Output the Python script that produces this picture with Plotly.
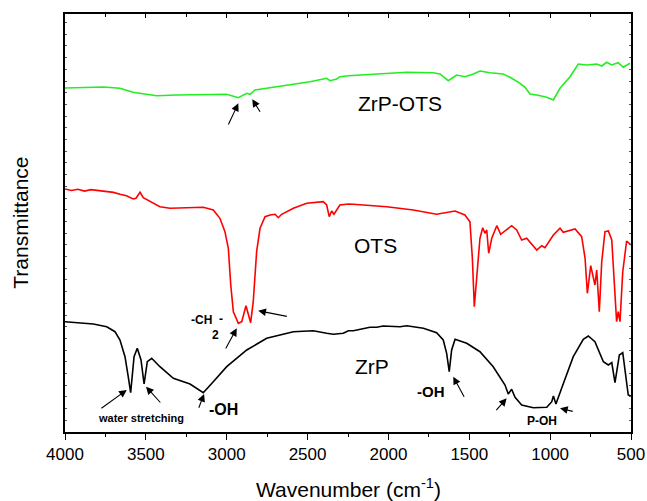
import plotly.graph_objects as go

# ---------------- data (wavenumber cm-1, transmittance a.u.) ----------------
zrpots_w = [4000, 3763, 3660, 3580, 3433, 3309, 3000, 2928, 2876, 2856, 2825, 2691, 2485, 2382,
            2361, 2320, 2300, 2248, 2095, 1887, 1724, 1681, 1630, 1578, 1527, 1475, 1434, 1372,
            1290, 1248, 1186, 1155, 1125, 1083, 1021, 980, 939, 877, 826, 774, 712, 681, 650,
            619, 579, 548, 506]
zrpots_t = [344, 345, 343.7, 339.7, 336.3, 337, 337.7, 334.3, 338.7, 337.7, 342, 345.3, 350.3, 353.7,
            351.3, 353, 355.3, 356.3, 358, 359.7, 359.3, 358, 351.3, 357, 355.3, 358, 361, 359.3,
            358, 354.7, 348.7, 344.7, 338, 337, 334.7, 332, 343.7, 355.3, 368, 367, 368, 366, 369.7,
            367, 369.3, 364.7, 368.7]

ots_w = [4000, 3960, 3920, 3880, 3840, 3784, 3740, 3700, 3660, 3620, 3578, 3561, 3536, 3516, 3413,
         3351, 3145, 3083, 3042, 3011, 2990, 2975, 2959, 2928, 2907, 2881, 2852, 2836, 2815, 2794,
         2763, 2732, 2701, 2681, 2660, 2588, 2505, 2403, 2382, 2366, 2351, 2337, 2300, 2248, 2217,
         2011, 1846, 1702, 1588, 1527, 1496, 1481, 1469, 1450, 1434, 1417, 1403, 1392, 1380, 1361,
         1330, 1306, 1238, 1207, 1176, 1145, 1083, 1052, 1032, 980, 939, 919, 846, 805, 784, 770,
         749, 723, 712, 696, 681, 661, 640, 619, 599, 589, 579, 568, 551, 527, 500]
ots_t = [243, 241.5, 242.8, 240.9, 242.4, 241.3, 240.2, 239.6, 237.7, 236.2, 233, 233.7, 239.7, 234.3, 225.3,
         223.7, 224.7, 222, 213.7, 200.3, 183.7, 147, 120.3, 108.7, 110.3, 126.3, 109.3, 130.3, 180.3, 203.7,
         215.3, 217, 217.7, 214.3, 217.7, 223.7, 228.7, 230.3, 227, 215.3, 221, 217.7, 227, 228, 227.7,
         225.3, 222, 217.7, 221, 217, 210.3, 173.7, 125.3, 163.7, 193.7, 204.3, 198.7, 202, 178.7, 193.7,
         206.3, 197.7, 206.3, 202, 192, 193.7, 182, 186.3, 184.3, 197, 203.7, 199.7, 203, 195.3, 173.7, 138.7,
         166.3, 147, 162, 120.3, 170.3, 200.3, 201, 192, 130.3, 110.3, 120.3, 110.3, 160.3, 191, 187]

zrp_w = [4000, 3825, 3742, 3691, 3660, 3629, 3609, 3594, 3573, 3553, 3530, 3511, 3491, 3464, 3413,
         3330, 3227, 3145, 3083, 3000, 2876, 2753, 2588, 2465, 2382, 2341, 2279, 2248, 2217, 2114,
         2073, 2032, 1928, 1887, 1784, 1702, 1661, 1640, 1624, 1609, 1588, 1516, 1434, 1352, 1279,
         1259, 1238, 1217, 1176, 1104, 1021, 990, 980, 964, 929, 857, 795, 764, 723, 671, 640, 619,
         599, 572, 551, 531, 517, 500]
zrp_t = [110.3, 108, 105.3, 100.3, 92, 75.3, 55.3, 39.3, 75.3, 83.7, 72, 48, 70.3, 73.7, 65.3,
         53.7, 48, 39.3, 50.3, 65.3, 82, 93.7, 100.3, 101.3, 98.7, 97.7, 98.7, 101.3, 101.3, 104.7,
         104.7, 106, 105.3, 106.3, 103.7, 99.3, 92, 78.7, 60.3, 82, 92.7, 88.7, 80.3, 65.3, 47,
         38, 42.7, 34.7, 27, 24.3, 24.7, 30.3, 36, 28, 43.7, 75.3, 92.7, 96, 90.3, 70.3, 67, 69.3,
         49.3, 77, 79.3, 55.3, 37, 36]

x_ticks = [4000, 3500, 3000, 2500, 2000, 1500, 1000, 500]

# labels: (text, wavenumber, transmittance, size, bold)
labels = [
    ("ZrP-OTS", 1928, 329, 21, False),
    ("OTS", 2077, 186.5, 21, False),
    ("ZrP", 2102, 66, 21, False),
    ("-OH", 3017, 23, 16, True),
    ("water stretching", 3530, 14, 11, True),
    ("-CH", 3153, 112, 12, True),
    ("-", 3038, 113, 12, True),
    ("2", 3072, 97.5, 12, True),
    ("-OH", 1737, 41, 15, True),
    ("P-OH", 1050, 11, 12, True),
]

# arrows: (head_w, head_t, tail_w, tail_t)
arrows = [
    (2928, 328.7, 2994, 306),
    (2842, 332.7, 2788, 318.7),
    (2805, 121.3, 2619, 115.3),
    (2938, 103.7, 3011, 82),
    (3618, 42, 3784, 22.7),
    (3499, 45.3, 3402, 28),
    (3140, 38, 3176, 22.7),
    (1599, 55.3, 1527, 33.7),
    (1269, 33.7, 1341, 20.3),
    (939, 23.7, 851, 20.3),
]

FONT = "Liberation Sans, Arial, sans-serif"

fig = go.Figure()
fig.add_trace(go.Scatter(x=zrpots_w, y=zrpots_t, mode="lines", name="ZrP-OTS",
                         line=dict(color="#22ee22", width=1.6)))
fig.add_trace(go.Scatter(x=ots_w, y=ots_t, mode="lines", name="OTS",
                         line=dict(color="#ff0000", width=1.6)))
fig.add_trace(go.Scatter(x=zrp_w, y=zrp_t, mode="lines", name="ZrP",
                         line=dict(color="#000000", width=1.6)))
# invisible trace on top axis for inside ticks
fig.add_trace(go.Scatter(x=[4000, 500], y=[0, 0], xaxis="x2", mode="lines",
                         line=dict(width=0), hoverinfo="skip", showlegend=False))

annotations = []
for text, w, t, size, bold in labels:
    annotations.append(dict(x=w, y=t, xref="x", yref="y", showarrow=False,
                            text=f"<b>{text}</b>" if bold else text,
                            font=dict(family=FONT, size=size, color="black")))
for hw, ht, tw, tt in arrows:
    annotations.append(dict(x=hw, y=ht, ax=tw, ay=tt, xref="x", yref="y", axref="x", ayref="y",
                            text="", showarrow=True, arrowhead=2, arrowsize=1.4,
                            arrowwidth=1.1, arrowcolor="black", standoff=0, startstandoff=0,
                            font=dict(size=10)))
annotations.append(dict(x=0.5, y=-0.135, xref="paper", yref="paper", showarrow=False,
                        text="Wavenumber (cm<sup>-1</sup>)", yanchor="middle",
                        font=dict(family=FONT, size=21, color="black")))
annotations.append(dict(x=-0.080, y=0.5, xref="paper", yref="paper", showarrow=False,
                        text="Transmittance", textangle=-90, xanchor="center",
                        font=dict(family=FONT, size=21, color="black")))

fig.update_layout(
    width=647, height=501,
    margin=dict(l=65, r=16, t=14, b=69, autoexpand=False),
    paper_bgcolor="white", plot_bgcolor="white",
    showlegend=False,
    font=dict(family=FONT, color="black"),
    annotations=annotations,
    xaxis=dict(range=[4000, 500], tickvals=x_ticks, ticks="outside", ticklen=6, tickwidth=1.3,
               tickcolor="black", showline=True, linecolor="black", linewidth=1.5, automargin=False,
               showgrid=False, zeroline=False, tickfont=dict(family=FONT, size=17),
               minor=dict(dtick=250, ticks="outside", ticklen=3, tickwidth=1.2, tickcolor="black")),
    xaxis2=dict(range=[4000, 500], overlaying="x", side="top", tickvals=x_ticks, ticks="inside",
                ticklen=4, tickwidth=1.2, tickcolor="black", showticklabels=False, automargin=False,
                showline=True, linecolor="black", linewidth=1.5, showgrid=False, zeroline=False,
                minor=dict(dtick=250, ticks="inside", ticklen=3, tickwidth=1.2, tickcolor="black")),
    yaxis=dict(range=[0, 418], dtick=11.7, ticks="inside", ticklen=2.5, tickwidth=1, automargin=False,
               tickcolor="#555", showticklabels=False, showline=True, mirror="ticks",
               linecolor="black", linewidth=1.5, showgrid=False, zeroline=False),
)

fig.write_html("out.html", config={"displayModeBar": False},
               post_script="document.body.style.margin='0';document.body.style.padding='0';")
